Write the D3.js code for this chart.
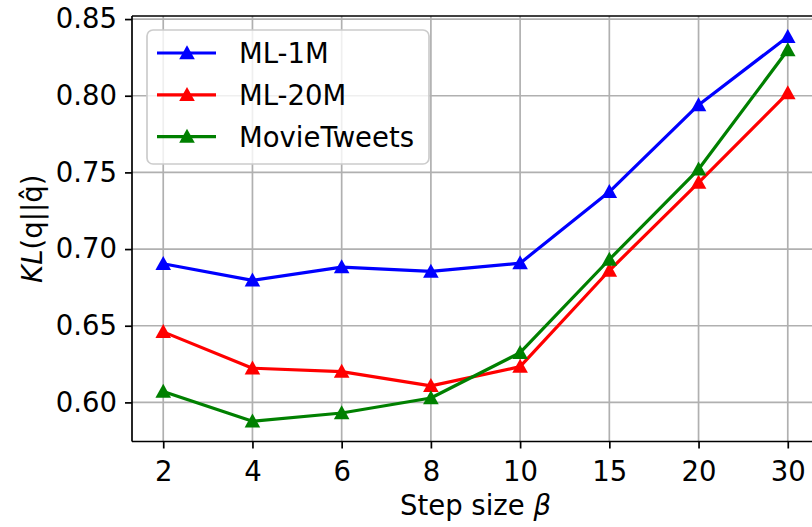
<!DOCTYPE html>
<html>
<head>
<meta charset="utf-8">
<script src="https://cdn.jsdelivr.net/npm/d3@7"></script>
<style>
  body { margin: 0; background: #fff; }
  svg { font-family: 'DejaVu Sans', sans-serif; }
</style>
</head>
<body>
<svg id="chart" width="812" height="527"></svg>
<script>
const steps = ['2', '4', '6', '8', '10', '15', '20', '30'];
const yTicks = [0.60, 0.65, 0.70, 0.75, 0.80, 0.85];

const ml1m = [0.6904, 0.6796, 0.6882, 0.6854, 0.6908, 0.7373, 0.794, 0.8385];
const ml20m = [0.646, 0.6223, 0.6201, 0.6108, 0.6233, 0.686, 0.7433, 0.8017];
const movieTweets = [0.6071, 0.5877, 0.5931, 0.6029, 0.6324, 0.6932, 0.752, 0.8298];

const seriesNames = ['ML-1M', 'ML-20M', 'MovieTweets'];
const seriesColors = ['#0000ff', '#ff0000', '#008000'];

const series = [ml1m, ml20m, movieTweets].map((values, i) => ({
  name: seriesNames[i],
  color: seriesColors[i],
  values
}));

const fontSize = 27.5;
const plot = { left: 132, right: 819, top: 16, bottom: 441.5 };

const svg = d3.select('#chart');

const x = d3.scalePoint()
  .domain(steps)
  .range([plot.left, plot.right])
  .padding(0.35);

const y = d3.scaleLinear()
  .domain([0.5745, 0.852])
  .range([plot.bottom, plot.top]);

// grid
const grid = svg.append('g').attr('class', 'grid');
grid.selectAll('.vgrid')
  .data(steps)
  .enter()
  .append('line')
  .attr('x1', d => x(d))
  .attr('x2', d => x(d))
  .attr('y1', plot.top)
  .attr('y2', plot.bottom)
  .attr('stroke', '#b0b0b0')
  .attr('stroke-width', 1.7);
grid.selectAll('.hgrid')
  .data(yTicks)
  .enter()
  .append('line')
  .attr('x1', plot.left)
  .attr('x2', plot.right)
  .attr('y1', d => y(d))
  .attr('y2', d => y(d))
  .attr('stroke', '#b0b0b0')
  .attr('stroke-width', 1.7);

// lines + markers
const triangle = 'M0,-7.8L7.8,6.2L-7.8,6.2Z';
const line = d3.line()
  .x((d, i) => x(steps[i]))
  .y(d => y(d));

const groups = svg.selectAll('.series')
  .data(series)
  .enter()
  .append('g')
  .attr('class', 'series');

groups.append('path')
  .attr('d', s => line(s.values))
  .attr('fill', 'none')
  .attr('stroke', s => s.color)
  .attr('stroke-width', 3.2)
  .attr('stroke-linejoin', 'round');

groups.each(function (s) {
  d3.select(this).selectAll('.marker')
    .data(s.values)
    .enter()
    .append('path')
    .attr('d', triangle)
    .attr('fill', s.color)
    .attr('transform', (d, i) => `translate(${x(steps[i])},${y(d)})`);
});

// axes
const yAxis = d3.axisLeft(y)
  .tickValues(yTicks)
  .tickSize(7)
  .tickPadding(8)
  .tickFormat(d3.format('.2f'));
const gy = svg.append('g')
  .attr('transform', `translate(${plot.left},0)`)
  .call(yAxis);

const xAxis = d3.axisBottom(x).tickSize(7).tickPadding(8);
const gx = svg.append('g')
  .attr('transform', `translate(0,${plot.bottom})`)
  .call(xAxis);

[gx, gy].forEach(g => {
  g.select('.domain').remove();
  g.selectAll('.tick line').attr('stroke', '#000').attr('stroke-width', 1.7);
  g.selectAll('.tick text')
    .attr('font-family', 'DejaVu Sans')
    .attr('font-size', fontSize)
    .attr('fill', '#000');
});
gx.selectAll('.tick text').attr('dy', '0.9em');

// spines
svg.append('line')
  .attr('x1', plot.left).attr('x2', plot.left)
  .attr('y1', plot.top).attr('y2', plot.bottom)
  .attr('stroke', '#000').attr('stroke-width', 1.7);
svg.append('line')
  .attr('x1', plot.left).attr('x2', plot.right)
  .attr('y1', plot.bottom).attr('y2', plot.bottom)
  .attr('stroke', '#000').attr('stroke-width', 1.7);
svg.append('line')
  .attr('x1', plot.left).attr('x2', plot.right)
  .attr('y1', plot.top).attr('y2', plot.top)
  .attr('stroke', '#000').attr('stroke-width', 1.7);

// axis labels
const xLabel = svg.append('text')
  .attr('x', (plot.left + plot.right) / 2)
  .attr('y', 515)
  .attr('text-anchor', 'middle')
  .attr('font-size', fontSize)
  .attr('fill', '#000');
xLabel.append('tspan').text('Step size ');
xLabel.append('tspan').attr('font-style', 'italic').text('β');

const yLabel = svg.append('text')
  .attr('transform', `translate(42,${(plot.top + plot.bottom) / 2}) rotate(-90)`)
  .attr('text-anchor', 'middle')
  .attr('font-size', fontSize)
  .attr('fill', '#000');
yLabel.append('tspan').attr('font-style', 'italic').text('KL');
yLabel.append('tspan').text('(q||q\u0302)');

// legend
const legend = svg.append('g').attr('class', 'legend');
legend.append('rect')
  .attr('x', 147)
  .attr('y', 30)
  .attr('width', 282)
  .attr('height', 134)
  .attr('rx', 6)
  .attr('fill', '#fff')
  .attr('fill-opacity', 0.8)
  .attr('stroke', '#cccccc')
  .attr('stroke-width', 1.7);

const rows = legend.selectAll('.row')
  .data(series)
  .enter()
  .append('g')
  .attr('transform', (s, i) => `translate(0,${53 + i * 41.8})`);
rows.append('line')
  .attr('x1', 157).attr('x2', 216)
  .attr('stroke', s => s.color)
  .attr('stroke-width', 3.2);
rows.append('path')
  .attr('d', triangle)
  .attr('fill', s => s.color)
  .attr('transform', 'translate(187,0)');
rows.append('text')
  .attr('x', 239)
  .attr('dy', '0.36em')
  .attr('font-size', fontSize)
  .attr('fill', '#000')
  .text(s => s.name);
</script>
</body>
</html>
